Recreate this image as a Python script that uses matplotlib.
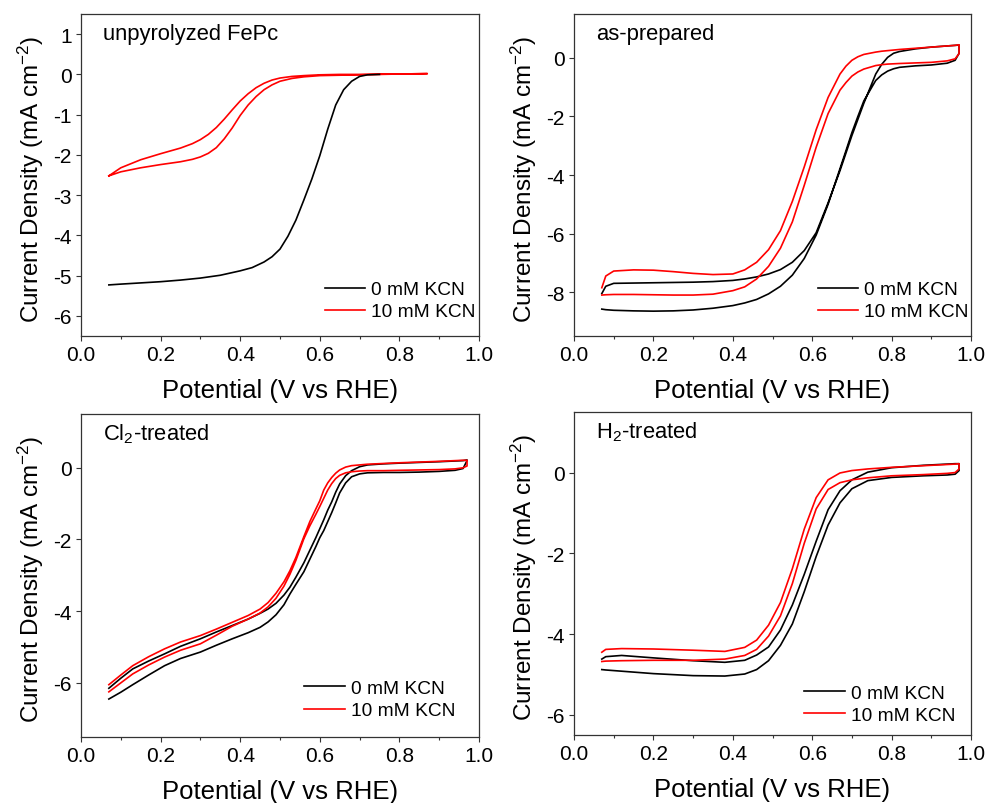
import numpy as np
import matplotlib
matplotlib.use('Agg')
import matplotlib.pyplot as plt
from matplotlib.ticker import MultipleLocator
from matplotlib.lines import Line2D

plt.rcParams['font.family'] = ['Liberation Sans', 'DejaVu Sans']
plt.rcParams['mathtext.default'] = 'regular'
plt.rcParams['axes.unicode_minus'] = False

# ---- unpyrolyzed FePc ----
v1_k0 = [0.07, 0.10, 0.15, 0.20, 0.25, 0.30, 0.35, 0.40, 0.43, 0.46, 0.48, 0.50,
         0.52, 0.54, 0.56, 0.58, 0.60, 0.62, 0.64, 0.66, 0.68, 0.70, 0.72, 0.75]
j1_k0 = [-5.23, -5.21, -5.18, -5.15, -5.11, -5.06, -4.99, -4.88, -4.80, -4.66, -4.53, -4.34,
         -4.02, -3.62, -3.12, -2.60, -2.02, -1.36, -0.76, -0.38, -0.17, -0.05, -0.01, 0.00]
v1_k10 = [0.07, 0.10, 0.15, 0.20, 0.25, 0.28, 0.30, 0.32, 0.34, 0.36, 0.38, 0.40,
          0.42, 0.44, 0.46, 0.48, 0.50, 0.53, 0.56, 0.60, 0.65, 0.70, 0.80, 0.87]
j1_k10_up = [-2.52, -2.32, -2.12, -1.97, -1.83, -1.72, -1.62, -1.49, -1.32, -1.11, -0.88, -0.66,
             -0.48, -0.33, -0.22, -0.14, -0.09, -0.05, -0.03, -0.01, 0.00, 0.00, 0.01, 0.02]
j1_k10_lo = [-2.52, -2.42, -2.32, -2.24, -2.17, -2.11, -2.05, -1.96, -1.82, -1.60, -1.33, -1.02,
             -0.76, -0.55, -0.38, -0.26, -0.17, -0.10, -0.06, -0.03, -0.02, -0.01, 0.01, 0.02]

# ---- as-prepared ----
v2 = [0.07, 0.08, 0.10, 0.15, 0.20, 0.25, 0.30, 0.35, 0.40, 0.43, 0.46, 0.49, 0.52, 0.55,
      0.58, 0.61, 0.64, 0.67, 0.685, 0.70, 0.715, 0.73, 0.76, 0.775, 0.79, 0.805, 0.82,
      0.86, 0.90, 0.94, 0.96, 0.97]
j2_k0_up = [-8.05, -7.80, -7.70, -7.69, -7.68, -7.67, -7.66, -7.64, -7.60, -7.55, -7.48, -7.38,
            -7.23, -6.98, -6.58, -5.97, -4.95, -3.85, -3.25, -2.65, -2.10, -1.55, -0.55, -0.22,
            0.02, 0.16, 0.22, 0.31, 0.37, 0.41, 0.43, 0.44]
j2_k0_lo = [-8.58, -8.60, -8.62, -8.64, -8.65, -8.64, -8.61, -8.55, -8.46, -8.37, -8.25, -8.06,
            -7.80, -7.42, -6.85, -6.05, -5.00, -3.78, -3.17, -2.55, -2.00, -1.47, -0.77, -0.58,
            -0.45, -0.37, -0.32, -0.27, -0.24, -0.18, -0.08, 0.16]
j2_k10_up = [-7.85, -7.45, -7.28, -7.24, -7.25, -7.30, -7.36, -7.40, -7.38, -7.24, -6.98, -6.55,
             -5.90, -4.90, -3.72, -2.45, -1.35, -0.55, -0.28, -0.08, 0.04, 0.12, 0.20, 0.23,
             0.25, 0.27, 0.29, 0.33, 0.37, 0.41, 0.43, 0.45]
j2_k10_lo = [-8.10, -8.09, -8.08, -8.08, -8.09, -8.10, -8.10, -8.07, -7.95, -7.82, -7.55, -7.12,
             -6.50, -5.60, -4.35, -3.05, -1.90, -1.10, -0.84, -0.62, -0.48, -0.38, -0.26, -0.23,
             -0.21, -0.20, -0.19, -0.17, -0.15, -0.10, -0.03, 0.15]

# ---- Cl2-treated ----
v3 = [0.07, 0.10, 0.13, 0.17, 0.21, 0.25, 0.30, 0.34, 0.38, 0.42, 0.45, 0.47, 0.49, 0.51,
      0.525, 0.54, 0.56, 0.575, 0.59, 0.60, 0.61, 0.62, 0.63, 0.64, 0.65, 0.665, 0.68, 0.70,
      0.72, 0.76, 0.80, 0.85, 0.90, 0.94, 0.96, 0.97]
j3_k0_up = [-6.15, -5.87, -5.61, -5.39, -5.19, -4.98, -4.77, -4.58, -4.40, -4.22, -4.06, -3.94,
            -3.78, -3.55, -3.33, -3.05, -2.65, -2.30, -1.95, -1.70, -1.45, -1.18, -0.95, -0.68,
            -0.45, -0.22, -0.08, 0.03, 0.08, 0.11, 0.13, 0.15, 0.17, 0.19, 0.20, 0.22]
j3_k0_lo = [-6.45, -6.26, -6.05, -5.78, -5.52, -5.32, -5.14, -4.95, -4.77, -4.60, -4.45, -4.30,
            -4.10, -3.82, -3.52, -3.25, -2.90, -2.55, -2.20, -1.95, -1.75, -1.50, -1.25, -0.98,
            -0.70, -0.42, -0.25, -0.17, -0.14, -0.13, -0.13, -0.12, -0.10, -0.07, -0.02, 0.20]
j3_k10_up = [-6.05, -5.78, -5.52, -5.27, -5.05, -4.86, -4.68, -4.50, -4.31, -4.12, -3.94, -3.76,
             -3.50, -3.18, -2.87, -2.50, -1.92, -1.50, -1.15, -0.92, -0.62, -0.42, -0.27, -0.15,
             -0.06, 0.02, 0.06, 0.08, 0.10, 0.12, 0.14, 0.16, 0.18, 0.20, 0.21, 0.21]
j3_k10_lo = [-6.25, -6.00, -5.75, -5.50, -5.28, -5.09, -4.91, -4.67, -4.42, -4.22, -4.05, -3.88,
             -3.64, -3.30, -2.97, -2.58, -1.98, -1.62, -1.30, -1.08, -0.85, -0.62, -0.44, -0.30,
             -0.21, -0.14, -0.11, -0.09, -0.08, -0.08, -0.07, -0.06, -0.05, -0.03, 0.00, 0.05]

# ---- H2-treated ----
v4 = [0.07, 0.08, 0.12, 0.20, 0.30, 0.38, 0.43, 0.46, 0.49, 0.52, 0.55, 0.58, 0.61, 0.64,
      0.67, 0.70, 0.74, 0.80, 0.88, 0.94, 0.96, 0.97]
j4_k0_up = [-4.62, -4.56, -4.53, -4.59, -4.66, -4.70, -4.65, -4.52, -4.32, -3.90, -3.28, -2.52,
            -1.70, -0.92, -0.45, -0.18, 0.01, 0.12, 0.18, 0.21, 0.22, 0.22]
j4_k0_lo = [-4.88, -4.89, -4.92, -4.98, -5.03, -5.04, -4.99, -4.88, -4.66, -4.28, -3.75, -2.95,
            -2.08, -1.30, -0.75, -0.40, -0.20, -0.12, -0.08, -0.06, -0.04, 0.05]
j4_k10_up = [-4.45, -4.38, -4.36, -4.37, -4.40, -4.43, -4.33, -4.15, -3.78, -3.22, -2.38, -1.40,
             -0.62, -0.18, -0.01, 0.05, 0.09, 0.13, 0.17, 0.20, 0.21, 0.22]
j4_k10_lo = [-4.68, -4.67, -4.66, -4.65, -4.65, -4.62, -4.53, -4.38, -4.05, -3.55, -2.75, -1.75,
             -0.90, -0.42, -0.25, -0.18, -0.13, -0.08, -0.05, -0.02, 0.00, 0.09]

titles = ['unpyrolyzed FePc', 'as-prepared', 'Cl$_2$-treated', 'H$_2$-treated']
labels = ['0 mM KCN', '10 mM KCN']


def loop(v, up, lo):
    # close the cyclic scan: up branch forward, low branch back
    return list(v) + list(v)[::-1], list(up) + list(lo)[::-1]


fig = plt.figure(figsize=(9.89, 8.04), dpi=100)
ax1 = fig.add_axes([0.0819, 0.5808, 0.4024, 0.4005])
ax2 = fig.add_axes([0.5804, 0.5808, 0.4014, 0.4005])
ax3 = fig.add_axes([0.0819, 0.0825, 0.4024, 0.4013])
ax4 = fig.add_axes([0.5804, 0.0846, 0.4014, 0.4017])

lw = 1.2
ax1.plot(*loop(v1_k10, j1_k10_up, j1_k10_lo), color='red', lw=lw)
ax1.plot(v1_k0, j1_k0, color='black', lw=lw)

ax2.plot(*loop(v2, j2_k0_up, j2_k0_lo), color='black', lw=lw)
ax2.plot(*loop(v2, j2_k10_up, j2_k10_lo), color='red', lw=lw)

ax3.plot(*loop(v3, j3_k0_up, j3_k0_lo), color='black', lw=lw)
ax3.plot(*loop(v3, j3_k10_up, j3_k10_lo), color='red', lw=lw)

ax4.plot(*loop(v4, j4_k0_up, j4_k0_lo), color='black', lw=lw)
ax4.plot(*loop(v4, j4_k10_up, j4_k10_lo), color='red', lw=lw)

ylims = [(-6.5, 1.5), (-9.5, 1.5), (-7.5, 1.5), (-6.5, 1.5)]
ysteps = [1, 2, 2, 2]
leg_pos = [(0.613, 0.11), (0.614, 0.11), (0.561, 0.115), (0.58, 0.095)]

for ax, title, yl, ys, lp in zip([ax1, ax2, ax3, ax4], titles, ylims, ysteps, leg_pos):
    ax.set_xlim(0, 1.0)
    ax.set_ylim(*yl)
    ax.xaxis.set_major_locator(MultipleLocator(0.2))
    ax.xaxis.set_minor_locator(MultipleLocator(0.1))
    ax.yaxis.set_major_locator(MultipleLocator(ys))
    ax.xaxis.set_major_formatter(plt.FormatStrFormatter('%.1f'))
    ax.tick_params(direction='out', length=3.5, width=0.8, labelsize=15, pad=3,
                   color='#333333')
    ax.tick_params(which='minor', direction='out', length=2.2, width=0.8, color='#333333')
    for s in ax.spines.values():
        s.set_linewidth(0.9)
        s.set_color('#333333')
    ax.set_xlabel('Potential (V vs RHE)', fontsize=18.5)
    ax.set_ylabel('Current Density (mA cm$^{-2}$)', fontsize=17.5)
    ax.xaxis.set_label_coords(0.5, -0.13)
    ax.yaxis.set_label_coords(-0.088, 0.49)
    ax.text(0.055, 0.922, title, transform=ax.transAxes, fontsize=15.8, va='baseline')
    handles = [Line2D([], [], color='black', lw=lw), Line2D([], [], color='red', lw=lw)]
    ax.legend(handles, labels, loc='center left', bbox_to_anchor=lp, frameon=False,
              fontsize=13.8, handlelength=2.1, handletextpad=0.32, labelspacing=0.25,
              borderpad=0, borderaxespad=0)

plt.savefig('out.png', dpi=100)
